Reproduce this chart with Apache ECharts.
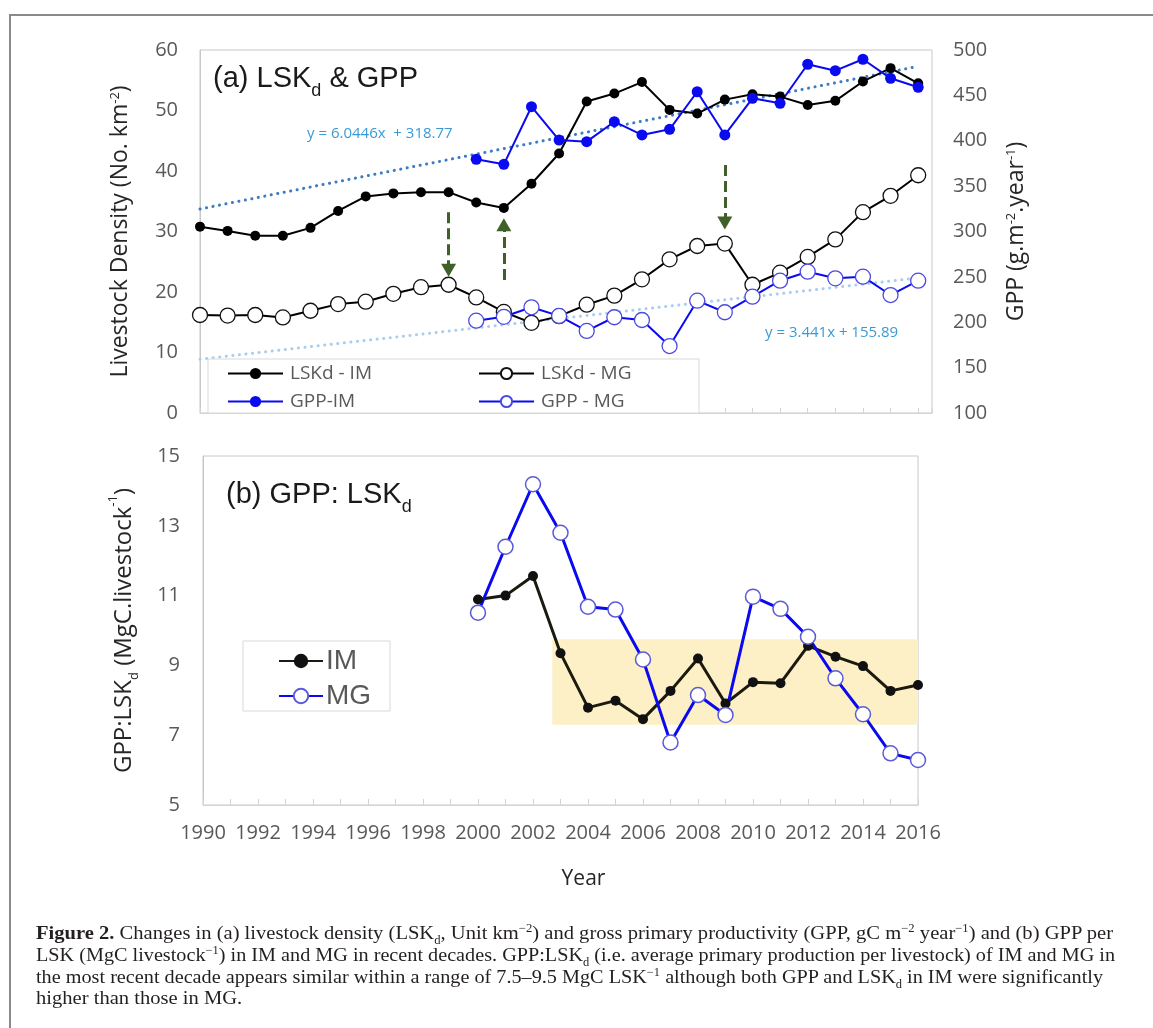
<!DOCTYPE html>
<html>
<head>
<meta charset="utf-8">
<script src="https://cdn.jsdelivr.net/npm/echarts@6/dist/echarts.min.js"></script>
<style>
  html, body { margin: 0; padding: 0; background: #fff; }
  #wrap { position: relative; width: 1153px; height: 1028px; overflow: hidden; }
  #chart { position: absolute; left: 0; top: 0; width: 1153px; height: 1028px; }
  #frame {
    position: absolute; left: 9px; top: 14px; width: 1200px; height: 1100px;
    border-left: 2px solid #8a8a8a; border-top: 2px solid #8a8a8a;
    pointer-events: none;
  }
  .cap {
    position: absolute; left: 36px; white-space: nowrap;
    font-family: 'Liberation Serif', serif; font-size: 19.5px; color: #231f20;
    transform-origin: 0 50%; line-height: 22px;
  }
  .cap sup, .cap sub { font-size: 12px; line-height: 0; }
</style>
</head>
<body>
<div id="wrap">
  <div id="chart"></div>
  <div id="frame"></div>
  <div class="cap" id="c1" style="top:922px"><b>Figure 2.</b> Changes in (a) livestock density (LSK<sub>d</sub>, Unit km<sup>−2</sup>) and gross primary productivity (GPP, gC m<sup>−2</sup> year<sup>−1</sup>) and (b) GPP per</div>
  <div class="cap" id="c2" style="top:944px">LSK (MgC livestock<sup>−1</sup>) in IM and MG in recent decades. GPP:LSK<sub>d</sub> (i.e. average primary production per livestock) of IM and MG in</div>
  <div class="cap" id="c3" style="top:966px">the most recent decade appears similar within a range of 7.5–9.5 MgC LSK<sup>−1</sup> although both GPP and LSK<sub>d</sub> in IM were significantly</div>
  <div class="cap" id="c4" style="top:987px">higher than those in MG.</div>
</div>
<script>
// years on the shared x axis
const years = [1990, 1991, 1992, 1993, 1994, 1995, 1996, 1997, 1998, 1999,
  2000, 2001, 2002, 2003, 2004, 2005, 2006, 2007, 2008, 2009,
  2010, 2011, 2012, 2013, 2014, 2015, 2016];

// (a) livestock density, No. km-2 (left axis)
const lskIM = [30.8, 30.1, 29.3, 29.3, 30.6, 33.4, 35.8, 36.3, 36.5, 36.5,
  34.8, 33.9, 37.9, 42.9, 51.5, 52.8, 54.7, 50.1, 49.5, 51.8,
  52.7, 52.3, 50.9, 51.6, 54.8, 57.0, 54.5];
const lskMG = [16.2, 16.1, 16.2, 15.8, 16.9, 18.0, 18.4, 19.7, 20.8, 21.2,
  19.1, 16.7, 14.9, 16.0, 17.9, 19.4, 22.1, 25.4, 27.6, 28.0,
  21.2, 23.2, 25.8, 28.7, 33.2, 35.9, 39.3];

// (a) GPP, g m-2 year-1 (right axis), no data before 2000
const gppIM = [null, null, null, null, null, null, null, null, null, null,
  379.6, 374, 437.5, 400.8, 399, 421, 406.4, 412.6, 454, 406.4,
  446.8, 441.3, 484.3, 477.2, 489.8, 468.8, 458.9];
const gppMG = [null, null, null, null, null, null, null, null, null, null,
  201.7, 206, 216.5, 207, 190.4, 205.5, 202.5, 173.8, 223.8, 211,
  228.2, 245.8, 255.7, 248.4, 250.2, 230, 245.8];

// printed trend equations: [slope, intercept], x = 1 at 1990
const trendIM = [6.0446, 318.77];
const trendMG = [3.441, 155.89];

// (b) GPP:LSKd, MgC livestock-1
const ratioYears = [2000, 2001, 2002, 2003, 2004, 2005, 2006, 2007, 2008,
  2009, 2010, 2011, 2012, 2013, 2014, 2015, 2016];
const ratioIM = [10.89, 11.0, 11.56, 9.35, 7.79, 7.99, 7.46, 8.27, 9.2,
  7.91, 8.52, 8.49, 9.56, 9.25, 8.98, 8.27, 8.44];
const ratioMG = [10.51, 12.4, 14.19, 12.8, 10.68, 10.6, 9.17, 6.79, 8.15,
  7.58, 10.97, 10.62, 9.82, 8.63, 7.6, 6.48, 6.29];

// shaded band in (b)
const bandYears = [2002.7, 2016];
const bandRange = [7.3, 9.75];

// green dashed arrows in (a), left-axis units
const arrowYears = [1999, 2001, 2009];
const arrowFrom = [33.2, 22.0, 41.0];
const arrowTo = [23.6, 31.1, 31.4];

const pairs = (xs, ys) => xs.map((x, i) => [x, ys[i]]).filter(p => p[1] != null);
const trendLine = t => [years[0], years[years.length - 1]].map(y => [y, t[0] * (y - 1989) + t[1]]);

const BLUE = '#0a0af0';
const GREY = '#595959';
const sans = "'Open Sans', sans-serif";
const arial = "'Liberation Sans', Arial, sans-serif";

const chart = echarts.init(document.getElementById('chart'));

const tickLabel = { color: GREY, fontSize: 20, fontFamily: sans };
const supStyle = { fontSize: 13, fontFamily: sans, color: '#262626', verticalAlign: 'top', lineHeight: 15 };
const subStyle = { fontSize: 13, fontFamily: sans, color: '#262626', verticalAlign: 'bottom', lineHeight: 34 };

const arrows = arrowYears.map((yr, i) => [
  { coord: [yr, arrowFrom[i]] },
  { coord: [yr, arrowTo[i]] }
]);

const option = {
  animation: false,
  backgroundColor: '#fff',
  grid: [
    { left: 200, top: 50, right: 221, height: 363, show: true, borderColor: '#c8c8c8', borderWidth: 1 },
    { left: 203, top: 456, right: 235, height: 349, show: true, borderColor: '#c8c8c8', borderWidth: 1 }
  ],
  xAxis: [
    {
      gridIndex: 0, type: 'value', min: 1990, max: 2016.5, interval: 1,
      axisLabel: { show: false },
      axisLine: { lineStyle: { color: '#d4d4d4' } },
      axisTick: { inside: true, length: 5, lineStyle: { color: '#d4d4d4' } },
      splitLine: { show: false }
    },
    {
      gridIndex: 1, type: 'value', min: 1990, max: 2016, interval: 1,
      axisLabel: Object.assign({ margin: 18, formatter: v => (v % 2 === 0 ? String(v) : '') }, tickLabel),
      axisLine: { lineStyle: { color: '#d4d4d4' } },
      axisTick: { inside: true, length: 6, lineStyle: { color: '#d4d4d4' } },
      splitLine: { show: false },
      name: 'Year', nameLocation: 'middle', nameGap: 64,
      nameTextStyle: { fontSize: 21, fontFamily: sans, color: '#262626', padding: [0, 0, 0, 46] }
    }
  ],
  yAxis: [
    {
      gridIndex: 0, type: 'value', min: 0, max: 60, interval: 10,
      axisLabel: Object.assign({ margin: 22 }, tickLabel),
      axisLine: { show: true, lineStyle: { color: '#c8c8c8' } },
      axisTick: { show: false }, splitLine: { show: false },
      name: 'Livestock Density (No. km{sup|-2})', nameLocation: 'middle', nameRotate: 90, nameGap: 68,
      nameTextStyle: { fontSize: 23, fontFamily: sans, color: '#262626', rich: { sup: supStyle } }
    },
    {
      gridIndex: 0, type: 'value', position: 'right', min: 100, max: 500, interval: 50,
      axisLabel: Object.assign({ margin: 21 }, tickLabel),
      axisLine: { show: false }, axisTick: { show: false }, splitLine: { show: false },
      name: 'GPP (g.m{sup|-2}.year{sup|-1})', nameLocation: 'middle', nameRotate: 90, nameGap: 73,
      nameTextStyle: { fontSize: 23, fontFamily: sans, color: '#262626', rich: { sup: supStyle } }
    },
    {
      gridIndex: 1, type: 'value', min: 5, max: 15, interval: 2,
      axisLabel: Object.assign({ margin: 23 }, tickLabel),
      axisLine: { show: true, lineStyle: { color: '#c8c8c8' } },
      axisTick: { show: false }, splitLine: { show: false },
      name: 'GPP:LSK{sub|d} (MgC.livestock{sup|-1})', nameLocation: 'middle', nameRotate: 90, nameGap: 62,
      nameTextStyle: { fontSize: 24, fontFamily: sans, color: '#262626', rich: { sup: supStyle, sub: subStyle } }
    }
  ],
  legend: [
    {
      left: 222, top: 359, orient: 'vertical', itemGap: 9, itemWidth: 55, itemHeight: 14,
      selectedMode: false, data: ['LSKd - IM', 'GPP-IM'],
      textStyle: { color: GREY, fontSize: 19, fontFamily: sans, padding: [0, 0, 0, 2] }
    },
    {
      left: 473, top: 359, orient: 'vertical', itemGap: 9, itemWidth: 55, itemHeight: 14,
      selectedMode: false, data: ['LSKd - MG', 'GPP - MG'],
      textStyle: { color: GREY, fontSize: 19, fontFamily: sans, padding: [0, 0, 0, 2] }
    },
    {
      left: 273, top: 642, orient: 'vertical', itemGap: 7, itemWidth: 44, itemHeight: 18,
      selectedMode: false, data: ['IM', 'MG'],
      textStyle: { color: GREY, fontSize: 28, fontFamily: arial, padding: [0, 0, 0, -2] }
    }
  ],
  graphic: [
    { type: 'rect', z: 3, shape: { x: 208, y: 359, width: 491, height: 54 },
      style: { fill: '#fff', stroke: '#d9d9d9', lineWidth: 1 } },
    { type: 'rect', z: 3, shape: { x: 243, y: 641, width: 147, height: 70 },
      style: { fill: '#fff', stroke: '#d9d9d9', lineWidth: 1 } },
    { type: 'text', z: 6, left: 213, top: 64,
      style: { text: '(a) LSK{d|d} & GPP', fontSize: 29, fontFamily: arial, fill: '#1a1a1a',
        rich: { d: { fontSize: 18, fontFamily: arial, fill: '#1a1a1a', verticalAlign: 'bottom', lineHeight: 44 } } } },
    { type: 'text', z: 6, left: 226, top: 480,
      style: { text: '(b) GPP: LSK{d|d}', fontSize: 29, fontFamily: arial, fill: '#1a1a1a',
        rich: { d: { fontSize: 18, fontFamily: arial, fill: '#1a1a1a', verticalAlign: 'bottom', lineHeight: 44 } } } },
    { type: 'text', z: 6, left: 307, top: 126,
      style: { text: 'y = 6.0446x  + 318.77', fontSize: 15, fontFamily: sans, fill: '#3a9ad8' } },
    { type: 'text', z: 6, left: 765, top: 325,
      style: { text: 'y = 3.441x + 155.89', fontSize: 15, fontFamily: sans, fill: '#3a9ad8' } }
  ],
  series: [
    {
      name: 'trend IM', type: 'line', xAxisIndex: 0, yAxisIndex: 1, z: 1,
      data: trendLine(trendIM), symbol: 'none', silent: true,
      lineStyle: { color: '#3b7cc2', width: 3, type: [0.1, 6.5], cap: 'round' }
    },
    {
      name: 'trend MG', type: 'line', xAxisIndex: 0, yAxisIndex: 1, z: 1,
      data: trendLine(trendMG), symbol: 'none', silent: true,
      lineStyle: { color: '#a8cdee', width: 3, type: [0.1, 6.5], cap: 'round' }
    },
    {
      name: 'LSKd - IM', type: 'line', xAxisIndex: 0, yAxisIndex: 0,
      data: pairs(years, lskIM), symbol: 'circle', symbolSize: 10,
      itemStyle: { color: '#000' }, lineStyle: { color: '#000', width: 2 },
      markLine: {
        silent: true, symbol: ['none', 'triangle'], symbolSize: [15, 13],
        label: { show: false },
        lineStyle: { color: '#3f6129', width: 3, type: [11, 5] },
        data: arrows
      }
    },
    {
      name: 'LSKd - MG', type: 'line', xAxisIndex: 0, yAxisIndex: 0,
      data: pairs(years, lskMG), symbol: 'circle', symbolSize: 15,
      itemStyle: { color: '#fff', borderColor: '#111', borderWidth: 1.3 },
      lineStyle: { color: '#000', width: 2 }
    },
    {
      name: 'GPP-IM', type: 'line', xAxisIndex: 0, yAxisIndex: 1,
      data: pairs(years, gppIM), symbol: 'circle', symbolSize: 11,
      itemStyle: { color: BLUE }, lineStyle: { color: BLUE, width: 2 }
    },
    {
      name: 'GPP - MG', type: 'line', xAxisIndex: 0, yAxisIndex: 1,
      data: pairs(years, gppMG), symbol: 'circle', symbolSize: 15,
      itemStyle: { color: '#fff', borderColor: '#4a4ae0', borderWidth: 1.3 },
      lineStyle: { color: BLUE, width: 2 }
    },
    {
      name: 'IM', type: 'line', xAxisIndex: 1, yAxisIndex: 2,
      data: pairs(ratioYears, ratioIM), symbol: 'circle', symbolSize: 10,
      itemStyle: { color: '#111' }, lineStyle: { color: '#1c1a0e', width: 3 },
      markArea: {
        silent: true,
        itemStyle: { color: '#fdf0c6' },
        data: [[{ coord: [bandYears[0], bandRange[0]] }, { coord: [bandYears[1], bandRange[1]] }]]
      }
    },
    {
      name: 'MG', type: 'line', xAxisIndex: 1, yAxisIndex: 2,
      data: pairs(ratioYears, ratioMG), symbol: 'circle', symbolSize: 15,
      itemStyle: { color: '#fff', borderColor: '#5a5ad8', borderWidth: 1.5 },
      lineStyle: { color: BLUE, width: 3 }
    }
  ]
};

chart.setOption(option);

// squeeze caption lines to the reference line lengths
const capTargets = { c1: 1077, c2: 1079, c3: 1067 };
let s1 = 1;
['c1', 'c2', 'c3'].forEach(id => {
  const el = document.getElementById(id);
  const s = capTargets[id] / el.getBoundingClientRect().width;
  if (id === 'c1') s1 = s;
  el.style.transform = 'scaleX(' + s + ')';
});
document.getElementById('c4').style.transform = 'scaleX(' + s1 + ')';
</script>
</body>
</html>
